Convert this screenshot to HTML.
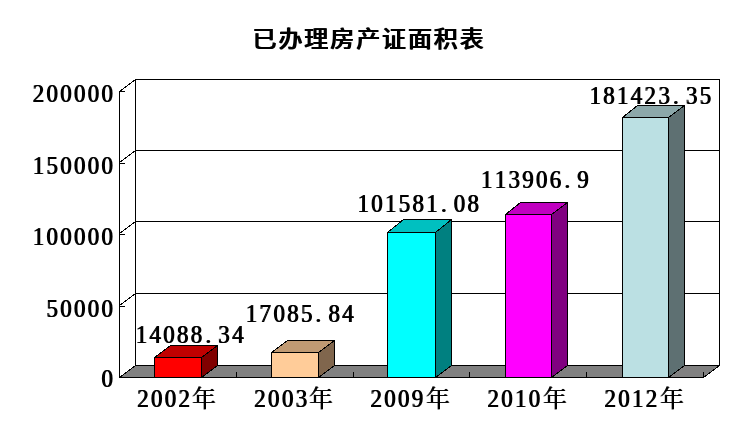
<!DOCTYPE html>
<html lang="zh"><head><meta charset="utf-8"><title>已办理房产证面积表</title>
<style>html,body{margin:0;padding:0;background:#fff}svg{display:block}</style></head>
<body>
<svg width="747" height="438" viewBox="0 0 747 438">
<defs><filter id="fb" x="0" y="0" width="747" height="438" filterUnits="userSpaceOnUse"><feOffset dx="0.5" dy="0" result="o"/><feMerge><feMergeNode in="SourceGraphic"/><feMergeNode in="o"/></feMerge></filter></defs>
<g shape-rendering="crispEdges" stroke="#000" stroke-width="1" fill="none">
<rect x="135.5" y="79.5" width="584.0" height="286.0" fill="#fff"/>
<polygon points="119.5,91.5 135.5,79.5 135.5,365.5 119.5,377.5" fill="#fff"/>
<polygon points="119.5,377.5 135.5,365.5 719.5,365.5 703.5,377.5" fill="#808080"/>
<line x1="119.5" y1="91.5" x2="125.0" y2="91.5"/>
<line x1="135.5" y1="150.5" x2="719.5" y2="150.5"/>
<line x1="119.5" y1="162.5" x2="135.5" y2="150.5"/>
<line x1="119.5" y1="163.5" x2="125.0" y2="163.5"/>
<line x1="135.5" y1="221.5" x2="719.5" y2="221.5"/>
<line x1="119.5" y1="233.5" x2="135.5" y2="221.5"/>
<line x1="119.5" y1="234.5" x2="125.0" y2="234.5"/>
<line x1="135.5" y1="293.5" x2="719.5" y2="293.5"/>
<line x1="119.5" y1="305.5" x2="135.5" y2="293.5"/>
<line x1="119.5" y1="306.5" x2="125.0" y2="306.5"/>
<line x1="236.5" y1="372.0" x2="236.5" y2="377.5"/>
<line x1="353.5" y1="372.0" x2="353.5" y2="377.5"/>
<line x1="469.5" y1="372.0" x2="469.5" y2="377.5"/>
<line x1="586.5" y1="372.0" x2="586.5" y2="377.5"/>
<line x1="703.5" y1="372.0" x2="703.5" y2="377.5"/>
<polygon points="154.5,357.5 170.5,345.5 217.5,345.5 201.5,357.5" fill="#C00000"/>
<polygon points="201.5,357.5 217.5,345.5 217.5,365.5 201.5,377.5" fill="#800000"/>
<rect x="154.5" y="357.5" width="47.0" height="20.0" fill="#FF0000"/>
<polygon points="271.5,352.5 287.5,340.5 334.5,340.5 318.5,352.5" fill="#C09A73"/>
<polygon points="318.5,352.5 334.5,340.5 334.5,365.5 318.5,377.5" fill="#80664D"/>
<rect x="271.5" y="352.5" width="47.0" height="25.0" fill="#FFCC99"/>
<polygon points="387.5,232.5 403.5,219.5 451.5,219.5 435.5,232.5" fill="#00C0C0"/>
<polygon points="435.5,232.5 451.5,219.5 451.5,365.5 435.5,377.5" fill="#008080"/>
<rect x="387.5" y="232.5" width="48.0" height="145.0" fill="#00FFFF"/>
<polygon points="505.5,214.5 520.5,202.5 567.5,202.5 551.5,214.5" fill="#C000C0"/>
<polygon points="551.5,214.5 567.5,202.5 567.5,365.5 551.5,377.5" fill="#800080"/>
<rect x="505.5" y="214.5" width="46.0" height="163.0" fill="#FF00FF"/>
<polygon points="622.5,117.5 637.5,105.5 684.5,105.5 668.5,117.5" fill="#8CA8AA"/>
<polygon points="668.5,117.5 684.5,105.5 684.5,365.5 668.5,377.5" fill="#5E7072"/>
<rect x="622.5" y="117.5" width="46.0" height="260.0" fill="#BBE0E3"/>
</g>
<g font-family="'Liberation Serif','Noto Serif CJK SC',serif" font-size="25.5px" fill="#000" filter="url(#fb)">
<text transform="scale(0.9,1)" x="150.28 165.58 180.88 196.18 211.48 227.78 242.08 257.38" y="342.8">14088.34</text>
<text transform="scale(0.9,1)" x="272.61 287.91 303.21 318.51 333.81 350.11 364.41 379.71" y="321.8">17085.84</text>
<text transform="scale(0.9,1)" x="396.61 411.91 427.21 442.51 457.81 473.11 489.41 503.71 519.01" y="211.7">101581.08</text>
<text transform="scale(0.9,1)" x="533.83 549.13 564.43 579.73 595.03 610.33 626.63 640.93" y="187.7">113906.9</text>
<text transform="scale(0.9,1)" x="654.50 669.80 685.10 700.40 715.70 731.00 747.30 761.60 776.90" y="104">181423.35</text>
<text transform="scale(0.9,1)" x="35.81 51.11 66.41 81.71 97.01 112.31" y="102">200000</text>
<text transform="scale(0.9,1)" x="35.81 51.11 66.41 81.71 97.01 112.31" y="174">150000</text>
<text transform="scale(0.9,1)" x="35.81 51.11 66.41 81.71 97.01 112.31" y="245.4">100000</text>
<text transform="scale(0.9,1)" x="51.11 66.41 81.71 97.01 112.31" y="317">50000</text>
<text transform="scale(0.9,1)" x="112.31" y="387">0</text>
<text transform="scale(0.9,1)" x="151.83 167.13 182.43 197.73" y="407">2002</text><text x="191.6" y="407" font-size="24px" font-weight="300">年</text>
<text transform="scale(0.9,1)" x="282.06 297.36 312.66 327.96" y="407">2003</text><text x="308.6" y="407" font-size="24px" font-weight="300">年</text>
<text transform="scale(0.9,1)" x="411.06 426.36 441.66 456.96" y="407">2009</text><text x="425.6" y="407" font-size="24px" font-weight="300">年</text>
<text transform="scale(0.9,1)" x="541.06 556.36 571.66 586.96" y="407">2010</text><text x="542.6" y="407" font-size="24px" font-weight="300">年</text>
<text transform="scale(0.9,1)" x="671.06 686.36 701.66 716.96" y="407">2012</text><text x="659.6" y="407" font-size="24px" font-weight="300">年</text>
</g>
<text transform="scale(1,0.94)" x="252.1" y="49.63" filter="url(#fb)" font-family="'Liberation Sans','Noto Sans CJK SC',sans-serif" font-weight="500" font-size="24px" letter-spacing="1.9">已办理房产证面积表</text>
</svg>
</body></html>
